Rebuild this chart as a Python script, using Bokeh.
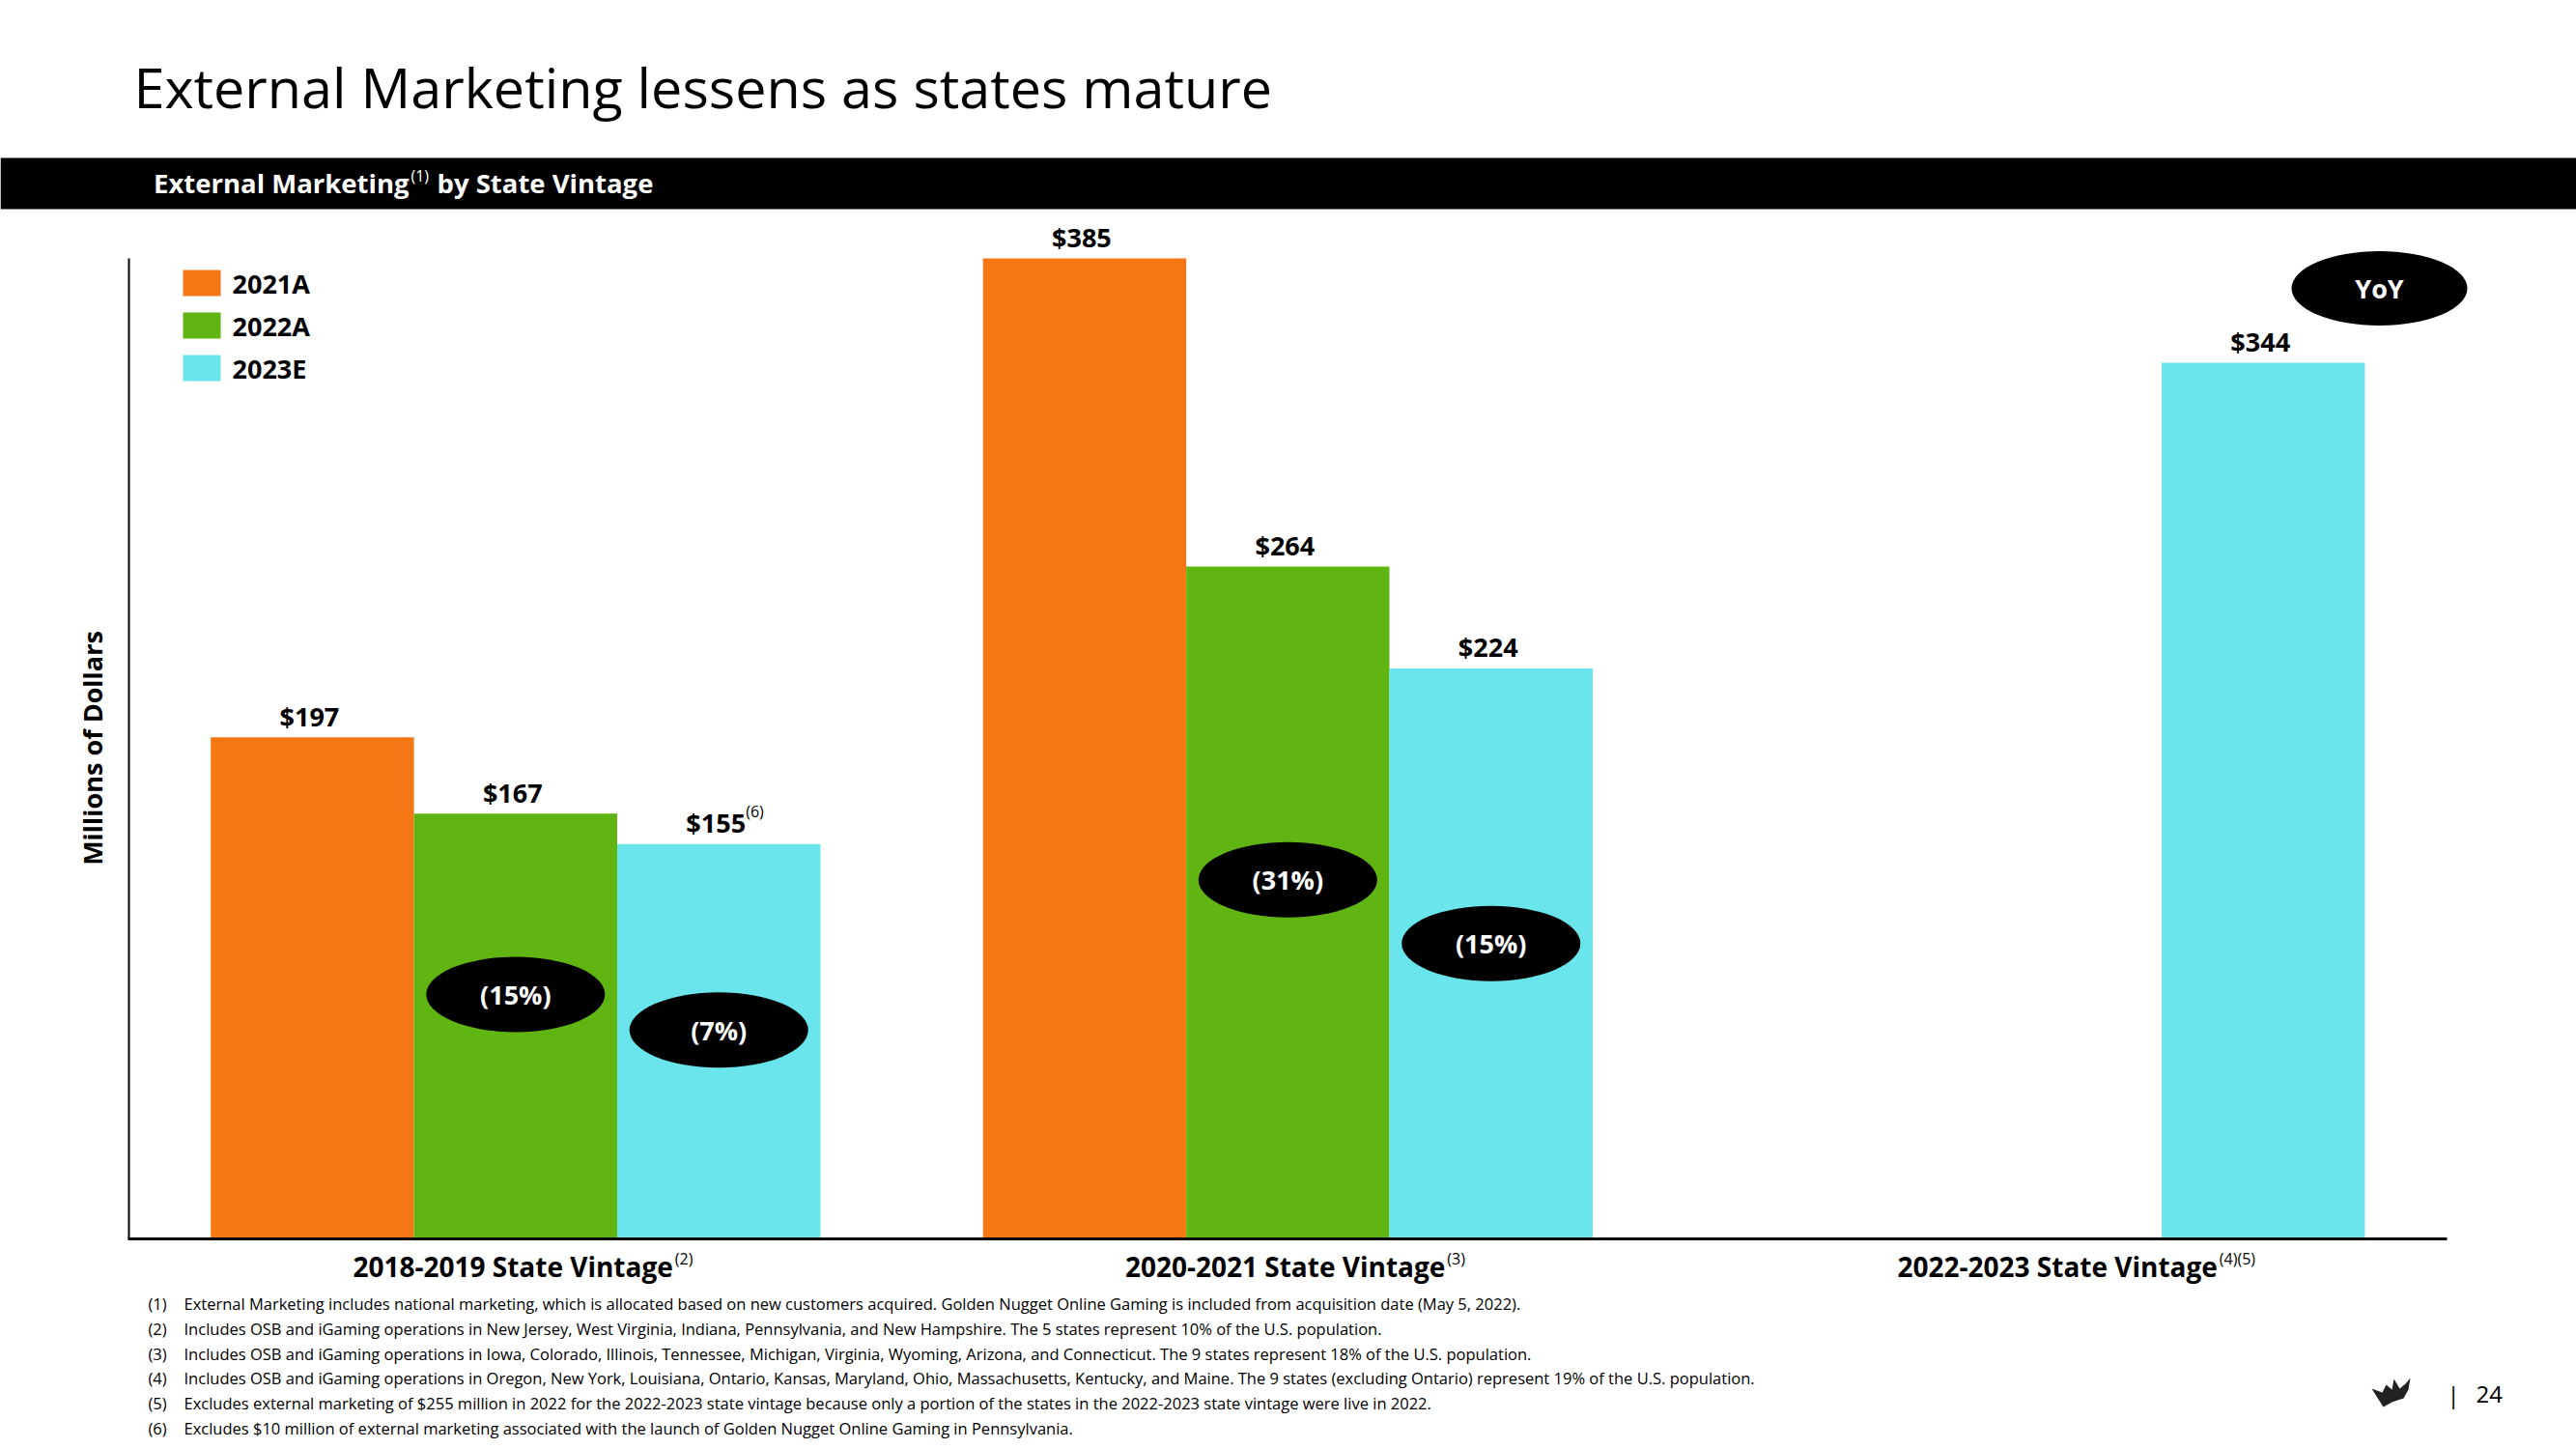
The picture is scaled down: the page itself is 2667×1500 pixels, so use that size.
import math
from bokeh.plotting import figure
from bokeh.models import Range1d, ColumnDataSource
from bokeh.core.properties import value
from bokeh.embed import file_html
from bokeh.resources import INLINE

# ---------------- data ----------------
groups = ["2018-2019", "2020-2021", "2022-2023"]
group_labels = ["2018-2019 State Vintage", "2020-2021 State Vintage", "2022-2023 State Vintage"]
group_notes = ["(2)", "(3)", "(4)(5)"]
series = ["2021A", "2022A", "2023E"]
val_2021A = [197, 385, None]
val_2022A = [167, 264, None]
val_2023E = [155, 224, 344]
colors = ["#F47615", "#60B512", "#69E5EB"]

title_text = "External Marketing lessens as states mature"
header_text = ["External Marketing", "(1)", "by State Vintage"]
y_label = "Millions of Dollars"
footnotes = [
    "External Marketing includes national marketing, which is allocated based on new customers acquired. Golden Nugget Online Gaming is included from acquisition date (May 5, 2022).",
    "Includes OSB and iGaming operations in New Jersey, West Virginia, Indiana, Pennsylvania, and New Hampshire. The 5 states represent 10% of the U.S. population.",
    "Includes OSB and iGaming operations in Iowa, Colorado, Illinois, Tennessee, Michigan, Virginia, Wyoming, Arizona, and Connecticut. The 9 states represent 18% of the U.S. population.",
    "Includes OSB and iGaming operations in Oregon, New York, Louisiana, Ontario, Kansas, Maryland, Ohio, Massachusetts, Kentucky, and Maine. The 9 states (excluding Ontario) represent 19% of the U.S. population.",
    "Excludes external marketing of $255 million in 2022 for the 2022-2023 state vintage because only a portion of the states in the 2022-2023 state vintage were live in 2022.",
    "Excludes $10 million of external marketing associated with the launch of Golden Nugget Online Gaming in Pennsylvania.",
]
page_number = "24"

# ---------------- layout ----------------
FONT = value("Open Sans")
W, H = 2667, 1500
BASE_Y, TOP_Y = 1282, 267          # pixel rows of value 0 and value 385
AX_LEFT, AX_RIGHT = 133, 2533
ppu = (BASE_Y - TOP_Y) / 385.0
y_end = BASE_Y / ppu
y_start = -(H - BASE_Y) / ppu

# x: one unit per bar slot; gap between groups
GAP = 0.8
UNIT = 210.4                       # pixels per bar slot
X0 = 217.7                         # pixel column of slot 0
x_start = -X0 / UNIT
x_end = (W - X0) / UNIT

def slot(gi, si):
    return gi * (len(series) + GAP) + si + 0.5

def group_center(gi):
    return gi * (len(series) + GAP) + len(series) / 2.0

p = figure(width=W, height=H, x_range=Range1d(x_start, x_end), y_range=Range1d(y_start, y_end),
           x_axis_type=None, y_axis_type=None, output_backend="svg",
           toolbar_location=None, min_border=0, outline_line_color=None,
           background_fill_color="white", border_fill_color="white")
p.extra_x_ranges = {"px": Range1d(0, W)}
p.extra_y_ranges = {"px": Range1d(H, 0)}

# ---------------- bars ----------------
xs, tops, cols, labels = [], [], [], []
for si, (s, vals, col) in enumerate(zip(series, [val_2021A, val_2022A, val_2023E], colors)):
    for gi, v in enumerate(vals):
        if v is not None:
            xs.append(slot(gi, si)); tops.append(v); cols.append(col); labels.append("$%d" % v)
bars = ColumnDataSource(dict(x=xs, top=tops, color=cols, label=labels))
p.vbar(x="x", top="top", bottom=0, width=1.0, fill_color="color", line_color=None, source=bars)
p.text(x="x", y="top", text="label", source=bars, x_offset=-3, y_offset=-22, text_align="center",
       text_baseline="middle", text_font=FONT, text_font_style="bold",
       text_font_size="27px", text_color="black")
# footnote mark on 2018-2019 2023E value
p.text(x=[slot(0, 2)], y=[val_2023E[0]], text=["(6)"], x_offset=28, y_offset=-34,
       text_align="left", text_baseline="middle", text_font=FONT,
       text_font_size="16px", text_color="black")

# ---------------- YoY badges ----------------
bx, by, bt = [], [], []
badge_y = [96, 82, 141, 116]   # vertical placement of the badges (value units)
k = 0
for gi in range(2):
    seq = [val_2021A[gi], val_2022A[gi], val_2023E[gi]]
    for si in (1, 2):
        ch = round((seq[si] / seq[si - 1] - 1) * 100)
        bx.append(slot(gi, si)); by.append(badge_y[k]); k += 1
        bt.append("(%d%%)" % abs(ch) if ch < 0 else "%d%%" % ch)
badges = ColumnDataSource(dict(x=bx, y=by, t=bt))
p.ellipse(x="x", y="y", width=185, height=78, width_units="screen", height_units="screen",
          fill_color="black", line_color=None, source=badges)
p.text(x="x", y="y", text="t", source=badges, text_align="center", text_baseline="middle",
       text_font=FONT, text_font_style="bold", text_font_size="27px", text_color="white")

p.ellipse(x=[2463], y=[298], width=182, height=77, width_units="screen", height_units="screen",
          fill_color="black", line_color=None, x_range_name="px", y_range_name="px")
p.text(x=[2463], y=[298], text=["YoY"], text_align="center", text_baseline="middle",
       text_font=FONT, text_font_style="bold", text_font_size="27px", text_color="white",
       x_range_name="px", y_range_name="px")

# ---------------- axes lines ----------------
p.segment(x0=[AX_LEFT, AX_LEFT - 1], y0=[TOP_Y, BASE_Y], x1=[AX_LEFT, AX_RIGHT], y1=[BASE_Y, BASE_Y],
          line_color="black", line_width=[2, 3], x_range_name="px", y_range_name="px")

# category labels
gcx = [group_center(gi) for gi in range(len(groups))]
p.text(x=gcx, y=[1310] * 3, text=group_labels, x_offset=163, text_align="right",
       text_baseline="middle", text_font=FONT, text_font_style="bold",
       text_font_size="28px", text_color="black", y_range_name="px")
p.text(x=gcx, y=[1302] * 3, text=group_notes, x_offset=165, text_align="left",
       text_baseline="middle", text_font=FONT, text_font_size="16px",
       text_color="black", y_range_name="px")

# y label
p.text(x=[95], y=[774], text=[y_label], angle=math.pi / 2, text_align="center",
       text_baseline="middle", text_font=FONT, text_font_style="bold",
       text_font_size="27px", text_color="black", x_range_name="px", y_range_name="px")

# ---------------- legend ----------------
leg_top = [279, 323, 367]
p.quad(left=[189] * 3, right=[228] * 3, top=leg_top, bottom=[t + 27 for t in leg_top],
       fill_color=colors, line_color=None, x_range_name="px", y_range_name="px")
p.text(x=[240] * 3, y=[t + 14 for t in leg_top], text=series, text_align="left",
       text_baseline="middle", text_font=FONT, text_font_style="bold",
       text_font_size="27px", text_color="black", x_range_name="px", y_range_name="px")

# ---------------- title & header ----------------
p.text(x=[138], y=[89], text=[title_text], text_align="left", text_baseline="middle",
       text_font=FONT, text_font_size="57.5px", text_color="black",
       x_range_name="px", y_range_name="px")
p.quad(left=[0], right=[W], top=[163], bottom=[216], fill_color="black",
       line_color=None, x_range_name="px", y_range_name="px")
p.text(x=[423], y=[189], text=[header_text[0]], text_align="right", text_baseline="middle",
       text_font=FONT, text_font_style="bold", text_font_size="27.5px", text_color="white",
       x_range_name="px", y_range_name="px")
p.text(x=[425], y=[181], text=[header_text[1]], text_align="left", text_baseline="middle",
       text_font=FONT, text_font_size="16px", text_color="white",
       x_range_name="px", y_range_name="px")
p.text(x=[452], y=[189], text=[header_text[2]], text_align="left", text_baseline="middle",
       text_font=FONT, text_font_style="bold", text_font_size="27.5px", text_color="white",
       x_range_name="px", y_range_name="px")

# ---------------- footnotes ----------------
fy = [1349 + 25.8 * i for i in range(len(footnotes))]
p.text(x=[153] * len(footnotes), y=fy, text=["(%d)" % (i + 1) for i in range(len(footnotes))],
       text_align="left", text_baseline="middle", text_font=FONT, text_font_size="16.5px",
       text_color="black", x_range_name="px", y_range_name="px")
p.text(x=[190] * len(footnotes), y=fy, text=footnotes, text_align="left",
       text_baseline="middle", text_font=FONT, text_font_size="16.5px",
       text_color="black", x_range_name="px", y_range_name="px")

# ---------------- page footer ----------------
crown_x = [2455, 2466, 2470, 2476, 2478, 2484, 2490, 2495, 2493, 2488, 2476, 2467]
crown_y = [1437, 1441, 1433, 1438, 1427, 1437, 1432, 1426, 1438, 1447, 1451, 1456]
p.patch(x=crown_x, y=crown_y, fill_color="#222222", line_color=None,
        x_range_name="px", y_range_name="px")
p.text(x=[2533, 2563], y=[1443, 1443], text=["|", page_number], text_align="left",
       text_baseline="middle", text_font=FONT, text_font_size="24px", text_color="black",
       x_range_name="px", y_range_name="px")

open("out.html", "w").write(file_html(p, INLINE))
